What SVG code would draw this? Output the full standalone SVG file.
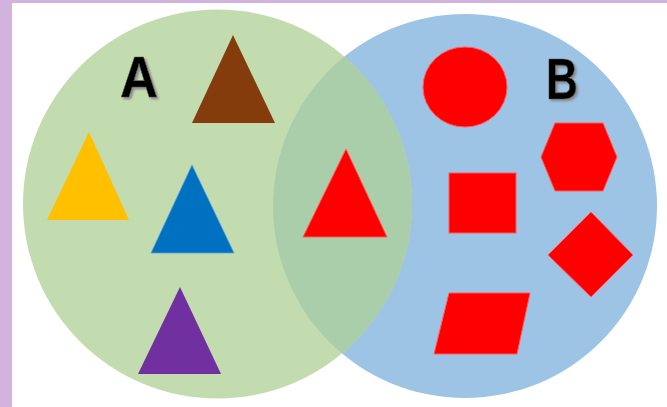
<svg xmlns="http://www.w3.org/2000/svg" width="667" height="407" viewBox="0 0 667 407">
  <style>
    .red { fill: #ff0000; stroke: #ff5a5a; stroke-width: 1; }
    .lbl { font-family: "Liberation Sans", Arial, sans-serif; font-weight: bold; font-size: 58px; fill: #000000; stroke: #555; stroke-width: 0.6; filter: url(#shadow); }
  </style>
  <defs>
    <clipPath id="clipB">
      <circle cx="465" cy="206" r="192"/>
    </clipPath>
    <filter id="shadow" x="-20%" y="-20%" width="150%" height="150%">
      <feDropShadow dx="2" dy="2" stdDeviation="0.8" flood-color="#8a8a8a" flood-opacity="1"/>
    </filter>
  </defs>
  <rect x="0" y="0" width="667" height="407" fill="#ffffff"/>
  <rect x="0" y="0" width="667" height="3" fill="#d1b3dd"/>
  <rect x="0" y="0" width="12" height="407" fill="#d1b3dd"/>

  <g id="setB">
    <circle cx="465" cy="206" r="192" fill="#9dc3e5"/>
  </g>
  <g id="setA">
    <circle cx="217.5" cy="204" r="194.5" fill="#c3dcaf"/>
  </g>
  <g id="intersection">
    <circle cx="217.5" cy="204" r="194.5" fill="#a9cea9" clip-path="url(#clipB)"/>
  </g>

  <g id="labelA">
    <text class="lbl" x="120" y="97" textLength="38" lengthAdjust="spacingAndGlyphs">A</text>
  </g>
  <g id="labelB">
    <text class="lbl" x="546" y="99" textLength="32" lengthAdjust="spacingAndGlyphs">B</text>
  </g>

  <g id="brownTriangle"><polygon points="233,35 275,123 192,123" fill="#843c0c"/></g>
  <g id="yellowTriangle"><polygon points="89,132 129,220 47,220" fill="#ffc000"/></g>
  <g id="blueTriangle"><polygon points="192,165 234,253 151,253" fill="#0070c0" stroke="#5aa0d8" stroke-width="0.8"/></g>
  <g id="purpleTriangle"><polygon points="180,287 221,374 138,374" fill="#7030a0"/></g>
  <g id="redTriangle"><polygon class="red" points="346,149 387,237 303,237"/></g>

  <g id="redCircle"><ellipse class="red" cx="465" cy="87" rx="42" ry="40"/></g>
  <g id="redHexagon"><polygon class="red" points="555,123 603,123 617,157 603,191 555,191 541,157"/></g>
  <g id="redSquare"><rect class="red" x="449" y="173" width="67" height="60"/></g>
  <g id="redDiamond"><polygon class="red" points="591,212 633,255 591,297 548,255"/></g>
  <g id="redParallelogram"><polygon class="red" points="449,293 530,293 517,354 434,354"/></g>

  <g id="connectors"></g>
</svg>
